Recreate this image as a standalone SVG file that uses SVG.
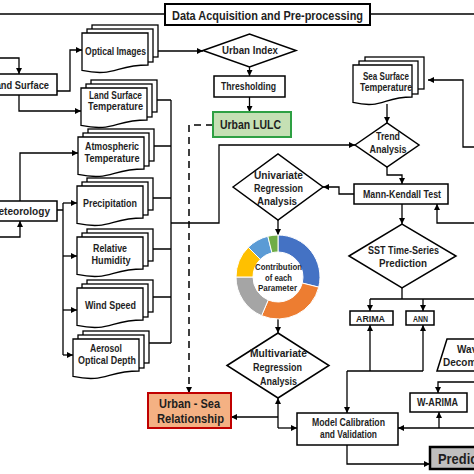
<svg xmlns="http://www.w3.org/2000/svg" width="474" height="474" viewBox="0 0 474 474">
<style>
.box{fill:#fff;stroke:#000;stroke-width:1.5}
.t{font-family:"Liberation Sans",Arial,sans-serif;font-weight:bold;font-size:10px;fill:#1e1e1e;text-anchor:middle}
.s{text-anchor:start}
.c{fill:none;stroke:#000;stroke-width:1.3}
.a{marker-end:url(#ah)}
.dash{stroke-dasharray:7,5;stroke-width:1.5}
.seg{stroke:#fff;stroke-width:1}
</style>
<defs>
<marker id="ah" viewBox="0 0 6 6" refX="6" refY="3" markerWidth="6" markerHeight="6" markerUnits="userSpaceOnUse" orient="auto">
<path d="M0,0 L6,3 L0,6 z" fill="#000"/>
</marker>
<g id="stack">
<rect x="10" y="-8" width="66" height="32" fill="#fff" stroke="#000" stroke-width="1.3"/>
<rect x="5" y="-4" width="66" height="33" fill="#fff" stroke="#000" stroke-width="1.3"/>
<path d="M0,0 H66 V32 C33,32 33,44.3 0,37.4 Z" fill="#fff" stroke="#000" stroke-width="1.3"/>
</g>
</defs>
<rect width="474" height="474" fill="#fff"/>

<g id="connectors">
<path class="c" d="M0,14 H165 M370,14 H474" stroke-width="2.5"/>
<path class="c a" d="M0,58 H19 V74"/>
<path class="c a" d="M57,91 H70 V50 H82"/>
<path class="c a" d="M19,95 V111 H81"/>
<path class="c a" d="M20,201 V153 H78"/>
<path class="c a" d="M0,237 H20 V221"/>
<path class="c" d="M57,210 H63 M63,203 V355"/>
<path class="c a" d="M63,203 H77"/>
<path class="c a" d="M63,256 H77"/>
<path class="c a" d="M63,310 H77"/>
<path class="c a" d="M63,355 H73"/>
<path class="c a" d="M158,51 H203"/>
<path class="c" d="M157,100 H171 M154,146 H171 M153,198 H171 M153,249 H171 M153,297 H171 M149,343 H171 M171,100 V343"/>
<path class="c a" d="M171,223 H219 V145 H355"/>
<path class="c a" d="M249.5,67 V76"/>
<path class="c a" d="M249.5,97 V112"/>
<path class="c a dash" d="M213,125 H189 V393"/>
<path class="c a" d="M387,104 V123"/>
<path class="c a" d="M387,167 V175 H402 V184"/>
<path class="c a" d="M354,194 H339 V187 H323"/>
<path class="c a" d="M278,220 V235"/>
<path class="c a" d="M402,204 V224"/>
<path class="c" d="M402,288 V299 M370,299 H474"/>
<path class="c a" d="M370,299 V311"/>
<path class="c a" d="M423,299 V311"/>
<path class="c a" d="M474,147 H463 V80 H428"/>
<path class="c a" d="M474,223 H437 V204"/>
<path class="c a" d="M370,371 V325"/>
<path class="c a" d="M423,371 V325"/>
<path class="c" d="M347,371 H423"/>
<path class="c a" d="M347,371 V413"/>
<path class="c a" d="M278,319 V333"/>
<path class="c a" d="M278,428 V398"/>
<path class="c a" d="M278,428 H297"/>
<path class="c a" d="M278,417 H231"/>
<path class="c a" d="M474,382 H438 V393"/>
<path class="c a" d="M474,428 H398"/>
<path class="c a" d="M439,428 V412"/>
<path class="c a" d="M347,445 V464 H430"/>
</g>

<g id="n-title">
<rect x="165" y="4" width="205" height="21" fill="#fff" stroke="#000" stroke-width="2"/>
<text class="t" x="267.5" y="19.5" style="font-size:12.5px" textLength="191" lengthAdjust="spacingAndGlyphs">Data Acquisition and Pre-processing</text>
</g>
<g id="n-land">
<rect class="box" x="-40" y="74" width="97" height="21"/>
<text class="t s" x="-10" y="89" style="font-size:11.5px" textLength="59" lengthAdjust="spacingAndGlyphs">Land Surface</text>
</g>
<g id="n-meteo">
<rect class="box" x="-40" y="201" width="97" height="20"/>
<text class="t s" x="-10" y="215" style="font-size:11.5px" textLength="60" lengthAdjust="spacingAndGlyphs">Meteorology</text>
</g>
<g id="n-optical">
<use href="#stack" x="82" y="33"/>
<text class="t" x="115.5" y="55" textLength="61" lengthAdjust="spacingAndGlyphs">Optical Images</text>
</g>
<g id="n-lst">
<use href="#stack" x="81" y="88"/>
<text class="t" x="115.5" y="98.5" textLength="53" lengthAdjust="spacingAndGlyphs">Land Surface</text>
<text class="t" x="115.5" y="110" textLength="55" lengthAdjust="spacingAndGlyphs">Temperature</text>
</g>
<g id="n-atm">
<use href="#stack" x="78" y="137"/>
<text class="t" x="112" y="150" textLength="54" lengthAdjust="spacingAndGlyphs">Atmospheric</text>
<text class="t" x="112" y="162" textLength="55" lengthAdjust="spacingAndGlyphs">Temperature</text>
</g>
<g id="n-precip">
<use href="#stack" x="77" y="186"/>
<text class="t" x="110" y="207" textLength="54" lengthAdjust="spacingAndGlyphs">Precipitation</text>
</g>
<g id="n-rh">
<use href="#stack" x="77" y="237"/>
<text class="t" x="110" y="252" textLength="34" lengthAdjust="spacingAndGlyphs">Relative</text>
<text class="t" x="111" y="263.5" textLength="39" lengthAdjust="spacingAndGlyphs">Humidity</text>
</g>
<g id="n-wind">
<use href="#stack" x="77" y="288"/>
<text class="t" x="110.5" y="308.5" textLength="51" lengthAdjust="spacingAndGlyphs">Wind Speed</text>
</g>
<g id="n-aerosol">
<use href="#stack" x="73" y="339"/>
<text class="t" x="106" y="352" textLength="32" lengthAdjust="spacingAndGlyphs">Aerosol</text>
<text class="t" x="107" y="364" textLength="58" lengthAdjust="spacingAndGlyphs">Optical Depth</text>
</g>
<g id="n-urbanindex">
<polygon class="box" points="203,50.5 249.5,34 296,50.5 249.5,67"/>
<text class="t" x="250" y="54" textLength="56" lengthAdjust="spacingAndGlyphs">Urban Index</text>
</g>
<g id="n-thresh">
<rect class="box" x="214" y="76" width="71" height="21"/>
<text class="t" x="248.5" y="90" textLength="55" lengthAdjust="spacingAndGlyphs">Thresholding</text>
</g>
<g id="n-lulc">
<rect x="213" y="112" width="78" height="25" fill="#c5e0b4" stroke="#2ea043" stroke-width="2"/>
<text class="t" x="250.5" y="129" style="font-size:12.5px" textLength="61" lengthAdjust="spacingAndGlyphs">Urban LULC</text>
</g>
<g id="n-sst">
<rect x="365" y="57" width="59" height="32" fill="#fff" stroke="#000" stroke-width="1.3"/>
<rect x="359" y="61" width="59" height="33" fill="#fff" stroke="#000" stroke-width="1.3"/>
<path d="M353,65 H412 V97 C382.5,97 382.5,109.3 353,102.4 Z" fill="#fff" stroke="#000" stroke-width="1.3"/>
<text class="t" x="386" y="79.5" textLength="46" lengthAdjust="spacingAndGlyphs">Sea Surface</text>
<text class="t" x="386" y="91" textLength="52" lengthAdjust="spacingAndGlyphs">Temperature</text>
</g>
<g id="n-trend">
<polygon class="box" points="355,145 387,123 419,145 387,167"/>
<text class="t" x="388" y="140" textLength="24" lengthAdjust="spacingAndGlyphs">Trend</text>
<text class="t" x="388" y="153" textLength="37" lengthAdjust="spacingAndGlyphs">Analysis</text>
</g>
<g id="n-mk">
<rect class="box" x="354" y="184" width="94" height="20"/>
<text class="t" x="402" y="197.5" textLength="78" lengthAdjust="spacingAndGlyphs">Mann-Kendall Test</text>
</g>
<g id="n-univ">
<polygon class="box" points="233,187 278,154 323,187 278,220"/>
<text class="t" x="278.5" y="178.5" textLength="49" lengthAdjust="spacingAndGlyphs">Univariate</text>
<text class="t" x="278.5" y="192" textLength="49" lengthAdjust="spacingAndGlyphs">Regression</text>
<text class="t" x="277" y="205" textLength="40" lengthAdjust="spacingAndGlyphs">Analysis</text>
</g>
<g id="n-donut">
<path class="seg" fill="#4472c4" d="M278,235 A42,42 0 0 1 318.75,287.16 L302.26,283.05 A25,25 0 0 0 278,252 Z"/>
<path class="seg" fill="#ed7d31" d="M318.75,287.16 A42,42 0 0 1 261.59,315.66 L268.23,300.01 A25,25 0 0 0 302.26,283.05 Z"/>
<path class="seg" fill="#a5a5a5" d="M261.59,315.66 A42,42 0 0 1 236,277 L253,277 A25,25 0 0 0 268.23,300.01 Z"/>
<path class="seg" fill="#ffc000" d="M236,277 A42,42 0 0 1 248.3,247.3 L260.32,259.32 A25,25 0 0 0 253,277 Z"/>
<path class="seg" fill="#5b9bd5" d="M248.3,247.3 A42,42 0 0 1 267.84,236.25 L271.95,252.74 A25,25 0 0 0 260.32,259.32 Z"/>
<path class="seg" fill="#70ad47" d="M267.84,236.25 A42,42 0 0 1 278,235 L278,252 A25,25 0 0 0 271.95,252.74 Z"/>
<text class="t" x="278.5" y="269.5" style="font-size:9px" textLength="47" lengthAdjust="spacingAndGlyphs">Contribution</text>
<text class="t" x="278.5" y="280.5" style="font-size:9px" textLength="27" lengthAdjust="spacingAndGlyphs">of each</text>
<text class="t" x="277.5" y="291" style="font-size:9px" textLength="39" lengthAdjust="spacingAndGlyphs">Parameter</text>
</g>
<g id="n-sstts">
<polygon class="box" points="349,256 402,224 456,256 402,288"/>
<text class="t" x="403.5" y="253.5" textLength="71" lengthAdjust="spacingAndGlyphs">SST Time-Series</text>
<text class="t" x="403" y="267" textLength="48" lengthAdjust="spacingAndGlyphs">Prediction</text>
</g>
<g id="n-arima">
<rect class="box" x="350" y="311" width="43" height="14"/>
<text class="t" x="370.5" y="322" style="font-size:9px" textLength="29" lengthAdjust="spacingAndGlyphs">ARIMA</text>
</g>
<g id="n-ann">
<rect class="box" x="406" y="311" width="28" height="14"/>
<text class="t" x="420.5" y="322" style="font-size:9px" textLength="15" lengthAdjust="spacingAndGlyphs">ANN</text>
</g>
<g id="n-multi">
<polygon class="box" points="227,365.5 278,333 329,365.5 278,398"/>
<text class="t" x="278.5" y="356.5" textLength="57" lengthAdjust="spacingAndGlyphs">Multivariate</text>
<text class="t" x="277.5" y="371" textLength="49" lengthAdjust="spacingAndGlyphs">Regression</text>
<text class="t" x="278.5" y="385" textLength="37" lengthAdjust="spacingAndGlyphs">Analysis</text>
</g>
<g id="n-urbansea">
<rect x="148" y="393" width="83" height="35" fill="#f4b183" stroke="#c00000" stroke-width="2"/>
<text class="t" x="189.5" y="408" style="font-size:12.5px" textLength="61" lengthAdjust="spacingAndGlyphs">Urban - Sea</text>
<text class="t" x="190.5" y="422.5" style="font-size:12.5px" textLength="67" lengthAdjust="spacingAndGlyphs">Relationship</text>
</g>
<g id="n-model">
<rect class="box" x="297" y="413" width="101" height="32"/>
<text class="t" x="348.5" y="425.5" textLength="73" lengthAdjust="spacingAndGlyphs">Model Calibration</text>
<text class="t" x="348.5" y="438" textLength="57" lengthAdjust="spacingAndGlyphs">and Validation</text>
</g>
<g id="n-wavelet">
<polygon class="box" points="447,339 540,339 530,371 437,371"/>
<text class="t s" x="457" y="352.5">Wavelet</text>
<text class="t s" x="443" y="366">Decomposition</text>
</g>
<g id="n-warima">
<rect class="box" x="410" y="393" width="57" height="19"/>
<text class="t" x="437.5" y="405.5" textLength="41" lengthAdjust="spacingAndGlyphs">W-ARIMA</text>
</g>
<g id="n-pred">
<rect x="430" y="447" width="80" height="22" fill="#bfbfbf" stroke="#000" stroke-width="2.5"/>
<text class="t s" x="438" y="463.5" style="font-size:15px" textLength="63" lengthAdjust="spacingAndGlyphs">Prediction</text>
</g>
</svg>
